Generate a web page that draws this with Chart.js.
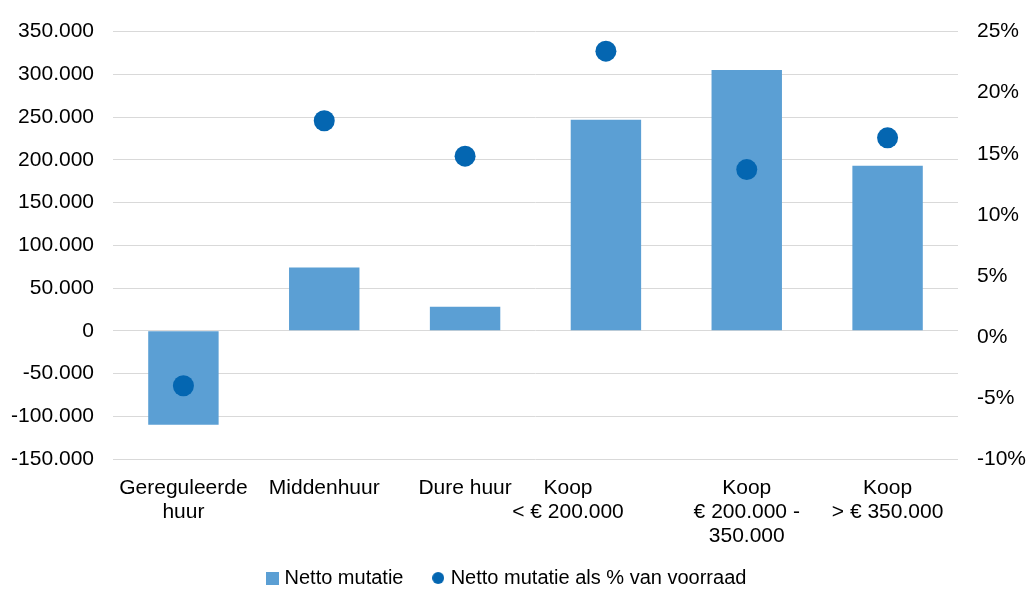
<!DOCTYPE html>
<html>
<head>
<meta charset="utf-8">
<script src="https://cdn.jsdelivr.net/npm/chart.js@4/dist/chart.umd.min.js"></script>
<style>
  html, body { margin: 0; padding: 0; background: #fff; }
  #wrap { width: 1027px; height: 589px; }
</style>
</head>
<body>
<div id="wrap"><canvas id="chart" width="1027" height="589"></canvas></div>
<script>
// ---- Data ----
const categories = [
    ['Gereguleerde', 'huur'],
    'Middenhuur',
    'Dure huur',
    ['Koop' + ' '.repeat(13), '< € 200.000' + ' '.repeat(13)],
    ['Koop', '€ 200.000 -', '350.000'],
    ['Koop', '> € 350.000']
];
const nettoMutatie = [-110000, 74000, 28000, 247000, 305000, 193000];
const mutatiePct = [-4.0, 17.7, 14.8, 23.4, 13.7, 16.3];

const seriesNames = ['Netto mutatie', 'Netto mutatie als % van voorraad'];
const leftTicks = { min: -150000, max: 350000, step: 50000 };
const rightTicks = { min: -10, max: 25, step: 5 };

const BAR_COLOR = '#5B9FD4';
const DOT_COLOR = '#0466B1';
const FONT = 'Liberation Sans, Arial, sans-serif';

// thousands with a dot, Dutch style
function formatNL(v) {
    const s = Math.abs(v).toString().replace(/\B(?=(\d{3})+(?!\d))/g, '.');
    return (v < 0 ? '-' : '') + s;
}

// small marker images for the legend
function makeMarker(shape, size, color) {
    const c = document.createElement('canvas');
    c.width = size;
    c.height = size;
    const g = c.getContext('2d');
    g.fillStyle = color;
    if (shape === 'circle') {
        g.beginPath();
        g.arc(size / 2, size / 2, size / 2, 0, Math.PI * 2);
        g.fill();
    } else {
        g.fillRect(0, 0, size, size);
    }
    return c;
}
const legendMarkers = [makeMarker('rect', 13, BAR_COLOR), makeMarker('circle', 12, DOT_COLOR)];
// extra room after each legend entry
const legendGap = ['    ', '  '];

const ctx = document.getElementById('chart').getContext('2d');
new Chart(ctx, {
    data: {
        labels: categories,
        datasets: [
            {
                type: 'bar',
                label: seriesNames[0],
                data: nettoMutatie,
                backgroundColor: BAR_COLOR,
                barPercentage: 0.5,
                categoryPercentage: 1,
                yAxisID: 'y',
                order: 1
            },
            {
                type: 'line',
                label: seriesNames[1],
                data: mutatiePct,
                showLine: false,
                pointRadius: 10.5,
                pointHoverRadius: 10.5,
                pointBackgroundColor: DOT_COLOR,
                pointBorderWidth: 0,
                borderColor: DOT_COLOR,
                yAxisID: 'y1',
                order: 0
            }
        ]
    },
    options: {
        responsive: false,
        animation: false,
        layout: { padding: { top: 25.5, left: 0, right: 0, bottom: -9 } },
        scales: {
            x: {
                grid: { display: false },
                border: { display: false },
                ticks: {
                    color: '#000',
                    font: { family: FONT, size: 21, lineHeight: '24px' },
                    padding: 9,
                    maxRotation: 0,
                    autoSkip: false
                },
                afterFit: function (scale) { scale.height = 99; }
            },
            y: {
                position: 'left',
                min: leftTicks.min,
                max: leftTicks.max,
                border: { display: false },
                grid: { color: '#d9d9d9', lineWidth: 1, drawTicks: false },
                ticks: {
                    stepSize: leftTicks.step,
                    color: '#000',
                    font: { family: FONT, size: 21 },
                    padding: 19,
                    callback: function (v) { return formatNL(v); }
                },
                afterFit: function (scale) { scale.width = 113; }
            },
            y1: {
                position: 'right',
                min: rightTicks.min,
                max: rightTicks.max,
                border: { display: false },
                grid: { drawOnChartArea: false, drawTicks: false },
                ticks: {
                    stepSize: rightTicks.step,
                    color: '#000',
                    font: { family: FONT, size: 21 },
                    padding: 19,
                    callback: function (v) { return v + '%'; }
                },
                afterFit: function (scale) { scale.width = 69; }
            }
        },
        plugins: {
            tooltip: { enabled: false },
            legend: {
                position: 'bottom',
                labels: {
                    usePointStyle: true,
                    boxWidth: 5,
                    boxHeight: 5,
                    padding: 10,
                    color: '#000',
                    font: { family: FONT, size: 20 },
                    generateLabels: function (chart) {
                        return chart.data.datasets.map(function (ds, i) {
                            return {
                                text: ds.label + legendGap[i],
                                pointStyle: legendMarkers[i],
                                fillStyle: i === 0 ? BAR_COLOR : DOT_COLOR,
                                strokeStyle: 'transparent',
                                lineWidth: 0,
                                fontColor: '#000',
                                hidden: false,
                                datasetIndex: i
                            };
                        });
                    }
                }
            }
        }
    }
});
</script>
</body>
</html>
